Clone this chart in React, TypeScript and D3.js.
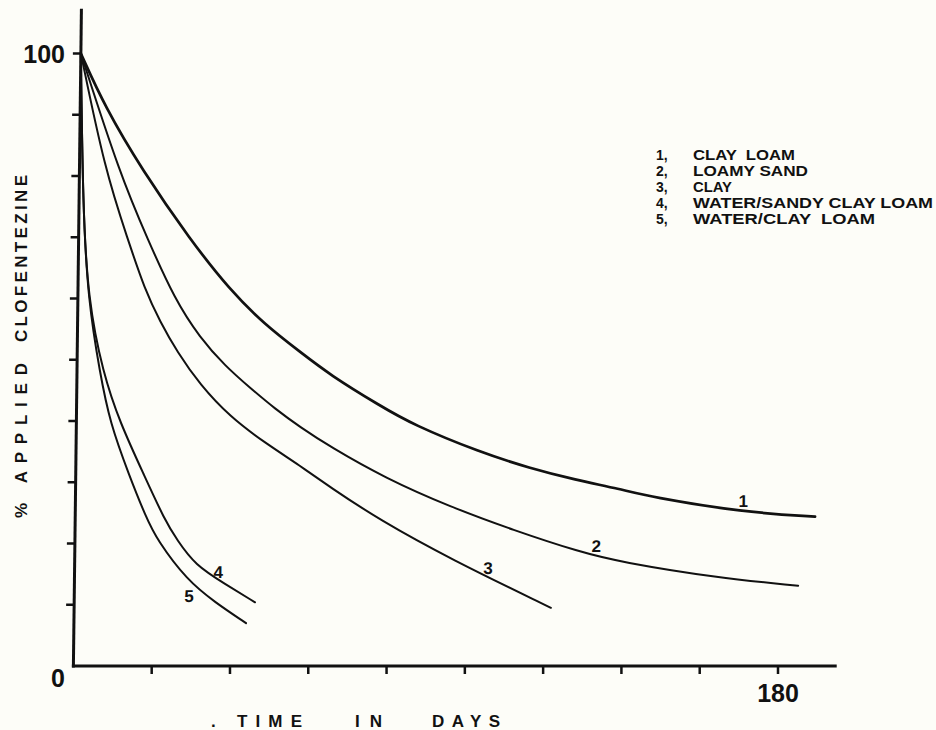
import React from "react";
import * as d3 from "d3";

// Decline of applied clofentezine (% remaining) against time in days.
const seriesIds = ["1", "2", "3", "4", "5"];
const seriesNames = [
  "CLAY  LOAM",
  "LOAMY SAND",
  "CLAY",
  "WATER/SANDY CLAY LOAM",
  "WATER/CLAY  LOAM",
];

const clayLoamDays = [0, 6.3, 16, 28.5, 38.8, 47.9, 56.9, 64.7, 77.5, 86, 103.2, 116, 127.6, 139.1, 146.8, 170.6, 189];
const clayLoamPct = [100, 91.3, 81, 69.6, 61.4, 55.7, 51.3, 47.5, 42.5, 39.4, 34.9, 32.3, 30.4, 28.9, 27.6, 25.1, 24.4];

const loamySandDays = [0, 10.4, 17.7, 24.8, 31.3, 37.8, 44.3, 50.7, 57.2, 64.9, 79, 95.7, 111.9, 129.1, 139.3, 164.2, 184.9];
const loamySandPct = [100, 80.2, 69.6, 59.8, 53.6, 49.0, 45.4, 42.0, 39.0, 35.8, 30.7, 26.0, 22.2, 18.6, 17.0, 14.4, 13.1];

const clayDays = [0, 6.5, 12.6, 17.1, 21.1, 25.5, 31.5, 39.2, 48.3, 57.3, 65, 77.9, 95.9, 121.8];
const clayPct = [100, 81, 69.6, 61.4, 56.2, 51.3, 45.9, 40.7, 36.4, 32.7, 29.2, 23.8, 17.5, 9.5];

const waterSandyDays = [0, 1.0, 2.6, 6.65, 11.15, 17.44, 22.9, 26.08, 30.75, 38.48, 46.2];
const waterSandyPct = [100, 74.9, 59.8, 47.8, 39.7, 31.2, 23.8, 20.6, 16.5, 13.4, 10.4];

const waterClayDays = [0, 1.0, 2.6, 5.88, 8.59, 13.61, 18.08, 20.97, 28.76, 35.98, 43.97];
const waterClayPct = [100, 74.9, 59.8, 47.8, 39.7, 31.2, 24.3, 20.6, 14.0, 10.4, 7.0];

const seriesDays = [clayLoamDays, loamySandDays, clayDays, waterSandyDays, waterClayDays];
const seriesPct = [clayLoamPct, loamySandPct, clayPct, waterSandyPct, waterClayPct];

// Day at which each curve carries its number.
const labelDays = [170.6, 133.2, 105.6, 36.7, 29.3];

const xTickValues = [20, 40, 60, 80, 100, 120, 140, 160, 180];
const xTickLabels = ["180"];
const yTickValues = [10, 20, 30, 40, 50, 60, 70, 80, 90, 100];
const yTickLabels = ["100", "0"];

const W = 936;
const H = 730;

const x = d3.scaleLinear().domain([0, 180]).range([73.4, 778]);
const y = d3.scaleLinear().domain([0, 100]).range([666, 53.5]);

// The hand-drawn frame leans slightly: the vertical axis tilts right towards its top.
const lean = 8 / 656;
const skewDeg = (-Math.atan(lean) * 180) / Math.PI;
const frameTransform = `translate(${lean * y(0)},0) skewX(${skewDeg})`;

const FONT = "'Liberation Sans', Arial, Helvetica, sans-serif";

// Legend layout: rendered widths of the soil names, first baseline and row pitch.
const legendNameWidths = [102, 115, 39, 240, 182];
const legendTop = 160;
const legendRow = 16;

export default function App() {
  const line = d3
    .line<[number, number]>()
    .x((d) => x(d[0]))
    .y((d) => y(d[1]))
    .curve(d3.curveBasis);

  const curves = seriesDays.map((days, i) =>
    days.map((d, j) => [d, seriesPct[i][j]] as [number, number])
  );

  const labelPos = labelDays.map((day, i) => {
    const interp = d3.scaleLinear().domain(seriesDays[i]).range(seriesPct[i]);
    return { day, pct: interp(day) };
  });
  const labelOffsets = [
    [0, -5],
    [0, -4],
    [0, -3],
    [0, -2],
    [0, 20],
  ];

  return (
    <svg
      width={W}
      height={H}
      viewBox={`0 0 ${W} ${H}`}
      style={{ position: "absolute", left: 0, top: 0, background: "#fdfdf8" }}
    >
      <rect x={0} y={0} width={W} height={H} fill="#fdfdf8" />
      <g transform={frameTransform}>
        {/* vertical axis */}
        <line
          x1={x(0)}
          y1={y(0) + 1.5}
          x2={x(0)}
          y2={y(107.3)}
          stroke="#111"
          strokeWidth={3}
        />
        {yTickValues.map((v) => (
          <line
            key={`yt${v}`}
            x1={x(0) - 8}
            x2={x(0)}
            y1={y(v)}
            y2={y(v)}
            stroke="#111"
            strokeWidth={2.5}
          />
        ))}
        {/* curves */}
        {curves.map((pts, i) => (
          <path
            key={`c${i}`}
            d={line(pts) || ""}
            fill="none"
            stroke="#111"
            strokeWidth={i === 0 ? 2.7 : 2}
            strokeLinejoin="round"
            strokeLinecap="round"
          />
        ))}
        {labelPos.map((p, i) => (
          <text
            key={`l${i}`}
            x={x(p.day) + labelOffsets[i][0]}
            y={y(p.pct) + labelOffsets[i][1]}
            textAnchor="middle"
            fontFamily={FONT}
            fontWeight="bold"
            fontSize={17}
            fill="#111"
          >
            {seriesIds[i]}
          </text>
        ))}
      </g>

      {/* horizontal axis */}
      <line x1={x(0) - 1.5} x2={x(195)} y1={y(0)} y2={y(0)} stroke="#111" strokeWidth={3} />
      {xTickValues.map((v) => (
        <line
          key={`xt${v}`}
          x1={x(v)}
          x2={x(v)}
          y1={y(0)}
          y2={y(0) + 8}
          stroke="#111"
          strokeWidth={2.5}
        />
      ))}

      {/* tick labels */}
      <text x={65} y={y(100) + 9} textAnchor="end" fontFamily={FONT} fontWeight="bold" fontSize={25} fill="#111">
        {yTickLabels[0]}
      </text>
      <text x={65} y={y(0) + 21} textAnchor="end" fontFamily={FONT} fontWeight="bold" fontSize={25} fill="#111">
        {yTickLabels[1]}
      </text>
      <text x={x(180)} y={y(0) + 36} textAnchor="middle" fontFamily={FONT} fontWeight="bold" fontSize={25} fill="#111">
        {xTickLabels[0]}
      </text>

      {/* axis titles */}
      <g fontFamily={FONT} fontWeight="bold" fontSize={17} fill="#111">
        <text x={211} y={727}>.</text>
        <text x={237} y={727} textLength={65} lengthAdjust="spacing">TIME</text>
        <text x={355} y={727} textLength={27} lengthAdjust="spacing">IN</text>
        <text x={432} y={727} textLength={68} lengthAdjust="spacing">DAYS</text>
        <text transform="translate(27,518) rotate(-90)" textLength={155} lengthAdjust="spacing">
          % APPLIED
        </text>
        <text transform="translate(27,342) rotate(-90)" textLength={167} lengthAdjust="spacing">
          CLOFENTEZINE
        </text>
      </g>

      {/* legend */}
      <g fontFamily={FONT} fontWeight="bold" fontSize={14} fill="#111">
        {seriesIds.map((id, i) => (
          <g key={`lg${id}`}>
            <text x={656} y={legendTop + i * legendRow}>{`${id},`}</text>
            <text
              x={693}
              y={legendTop + i * legendRow}
              textLength={legendNameWidths[i]}
              lengthAdjust="spacingAndGlyphs"
              style={{ whiteSpace: "pre" }}
            >
              {seriesNames[i]}
            </text>
          </g>
        ))}
      </g>
    </svg>
  );
}
